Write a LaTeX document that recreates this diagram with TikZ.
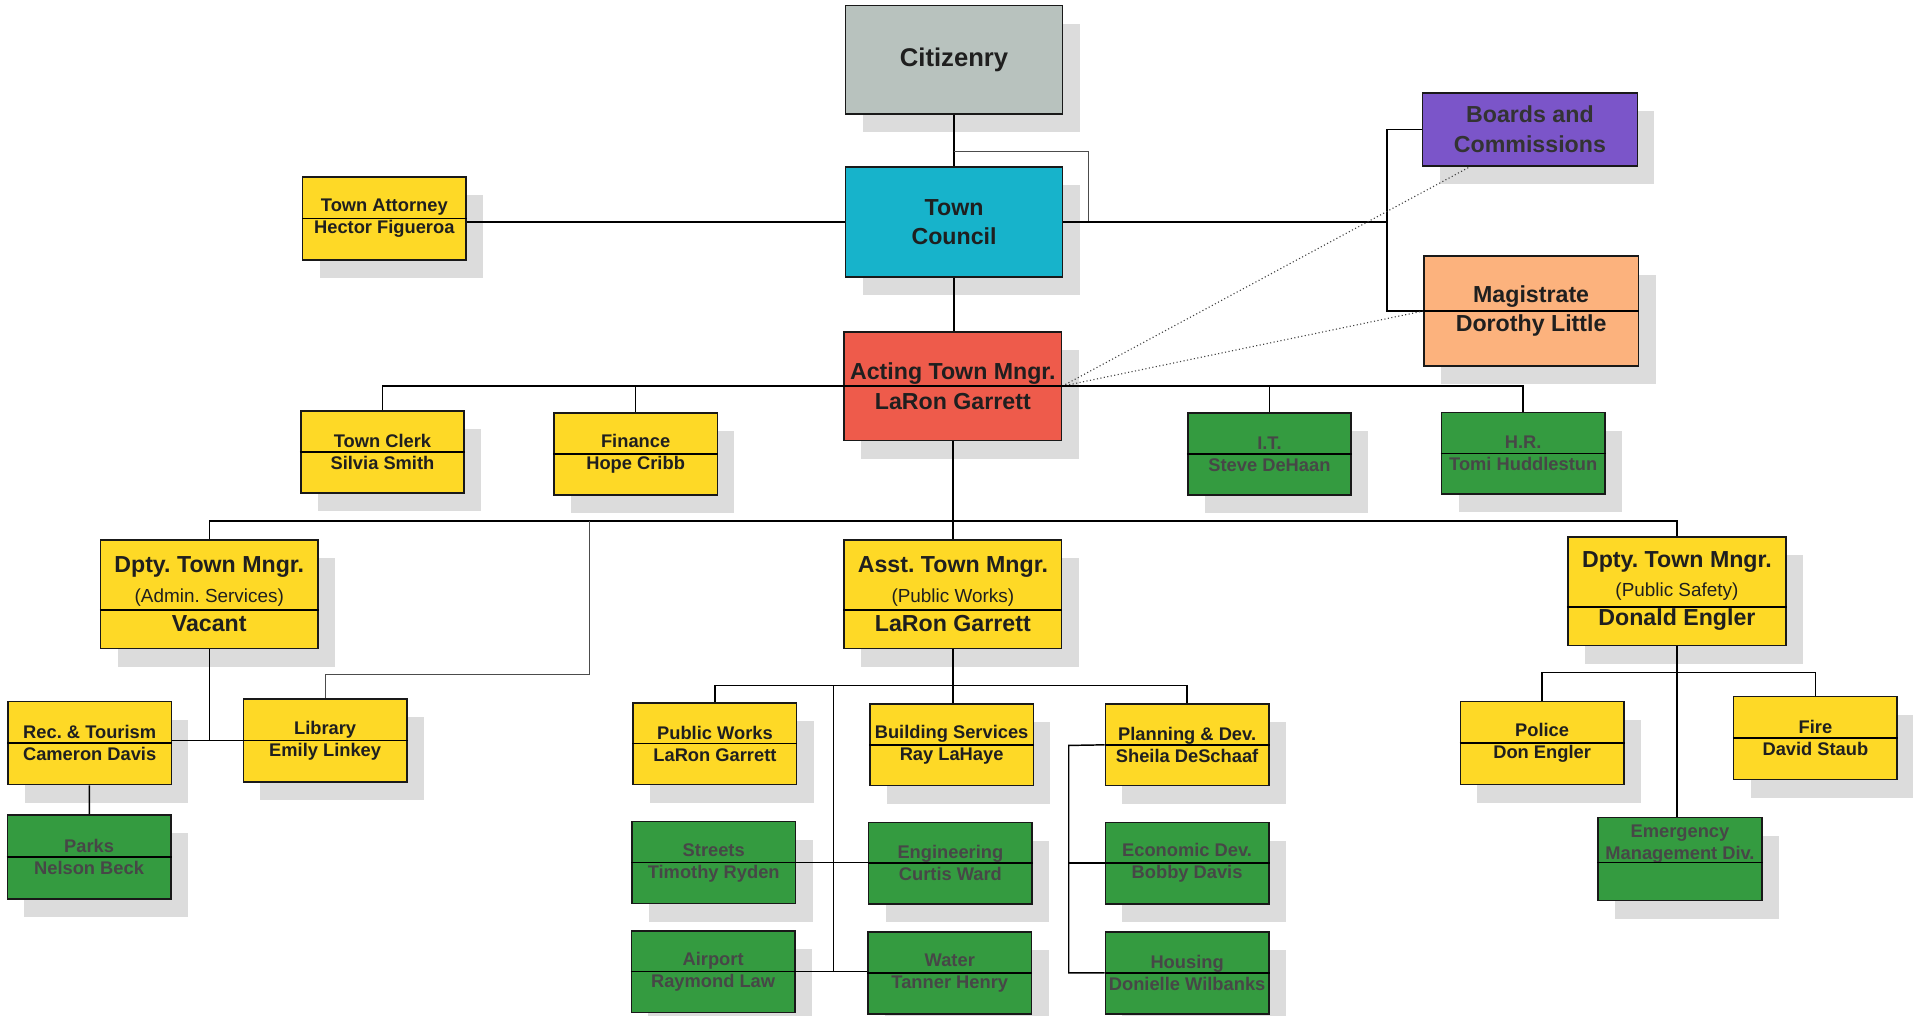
\documentclass[tikz,border=0pt]{standalone}
\usepackage{fontspec}
\setmainfont{Liberation Sans}
\usepackage{xcolor}
\usepackage{tikz}
\usetikzlibrary{shadows}
\frenchspacing

\definecolor{citgray}{HTML}{B8C2BE}
\definecolor{councilcyan}{HTML}{17B3CB}
\definecolor{boardpurple}{HTML}{7B55C9}
\definecolor{magpeach}{HTML}{FCB27D}
\definecolor{actred}{HTML}{EE5B4B}
\definecolor{deptyellow}{HTML}{FED926}
\definecolor{divgreen}{HTML}{349B40}
\definecolor{shadowgray}{HTML}{DCDCDC}

\begin{document}
\begin{tikzpicture}[x=1pt,y=-1pt,
	box/.style={draw=black!90, line width=1.3pt, inner sep=0pt, align=center,
		minimum width=134pt, minimum height=67pt, text=black!88,
		font=\fontsize{15}{18}\selectfont\bfseries,
		drop shadow={shadow xshift=14pt, shadow yshift=-15pt, fill=shadowgray, opacity=1}},
	bigbox/.style={box, minimum width=178pt, minimum height=89pt,
		font=\fontsize{19}{24}\selectfont\bfseries},
	yel/.style={box, fill=deptyellow},
	grn/.style={box, fill=divgreen, text=black!72},
	link/.style={line width=1.2pt},
	thinlink/.style={line width=0.6pt, black!70},
	dotlink/.style={line width=0.9pt, dotted, black!75},
	divline/.style={line width=1.2pt}]

\useasboundingbox (0,0) rectangle (1568,832);

\node[bigbox, fill=citgray, font=\fontsize{21}{24}\selectfont\bfseries] (citizen) at (782,49) {Citizenry};
\node[bigbox, fill=councilcyan, minimum height=90pt] (council) at (782,182) {Town\\Council};
\node[yel, minimum height=68pt] (atty) at (315,179) {Town Attorney\\Hector Figueroa};
\node[bigbox, fill=boardpurple, minimum width=176pt, minimum height=60pt, text=black!80] (boards) at (1254,106) {Boards and\\Commissions};
\node[bigbox, fill=magpeach, minimum width=176pt, minimum height=90pt] (magis) at (1255,255) {Magistrate\\Dorothy Little};
\node[bigbox, fill=actred] (acting) at (781,316.5) {Acting Town Mngr.\\LaRon Garrett};

\node[yel] (clerk) at (313.5,370.5) {Town Clerk\\Silvia Smith};
\node[yel] (finance) at (521,372) {Finance\\Hope Cribb};
\node[grn] (it) at (1040.5,372) {I.T.\\Steve DeHaan};
\node[grn] (hr) at (1248.5,371.5) {H.R.\\Tomi Huddlestun};

\node[bigbox, fill=deptyellow] (dadmin) at (171.5,487) {Dpty. Town Mngr.\\{\fontsize{15.5}{24}\selectfont\mdseries (Admin. Services)}\\Vacant};
\node[bigbox, fill=deptyellow] (asst) at (781,487) {Asst. Town Mngr.\\{\fontsize{15.5}{24}\selectfont\mdseries (Public Works)}\\LaRon Garrett};
\node[bigbox, fill=deptyellow, minimum width=179pt] (dps) at (1374.5,484.5) {Dpty. Town Mngr.\\{\fontsize{15.5}{24}\selectfont\mdseries (Public Safety)}\\Donald Engler};

\node[yel, minimum height=68pt] (rec) at (73.5,609) {Rec. \& Tourism\\Cameron Davis};
\node[yel, minimum height=68pt] (library) at (266.5,607) {Library\\Emily Linkey};
\node[grn, minimum height=69pt] (parks) at (73,702.5) {Parks\\Nelson Beck};

\node[yel] (pworks) at (586,609.5) {Public Works\\LaRon Garrett};
\node[yel] (building) at (780,610.5) {Building Services\\Ray LaHaye};
\node[yel] (planning) at (973,610.5) {Planning \& Dev.\\Sheila DeSchaaf};
\node[grn] (streets) at (585,707) {Streets\\Timothy Ryden};
\node[grn] (engineering) at (779,707.5) {Engineering\\Curtis Ward};
\node[grn] (econ) at (973,707.5) {Economic Dev.\\Bobby Davis};
\node[grn] (airport) at (584.5,796.5) {Airport\\Raymond Law};
\node[grn] (water) at (778.5,797.5) {Water\\Tanner Henry};
\node[grn] (housing) at (973,797.5) {Housing\\Donielle Wilbanks};

\node[yel, minimum height=68pt] (police) at (1264,609) {Police\\Don Engler};
\node[yel, minimum height=68pt] (fire) at (1488,605) {Fire\\David Staub};
\node[grn, minimum height=68pt] (emerg) at (1377,704) {Emergency\\Management Div.\\[9pt]\mbox{}};

\foreach \n in {atty,magis,acting,clerk,finance,it,hr,rec,library,parks,pworks,building,planning,streets,engineering,econ,airport,water,housing,police,fire}
	\draw[divline] (\n.west) -- (\n.east);
\foreach \n in {dadmin,asst,dps}
	\draw[divline] ([yshift=-13pt]\n.west) -- ([yshift=-13pt]\n.east);
\draw[divline] ([yshift=-3pt]emerg.west) -- ([yshift=-3pt]emerg.east);

\coordinate (loopA) at (782,124);
\coordinate (loopB) at (892,182);
\coordinate (bcjoin) at (1137,182);
\coordinate (bus2) at (781,427);
\coordinate (libA) at (483,427);
\coordinate (libB) at (483,553);
\coordinate (bus3) at (780,562);
\coordinate (pwA) at (683,562);
\coordinate (plA) at (876,611);
\coordinate (bus4) at (1376,551);

\draw[link] (citizen) -- (council);
\draw[thinlink] (loopA) -| (loopB);
\draw[link] (council.west) -- (council.west -| atty.east);
\draw[link] (council.east) -- (bcjoin);
\draw[link] (boards.west) -| (bcjoin) |- (magis.west);
\draw[link] (council.south) -- (council.south |- acting.north);
\draw[dotlink] (acting.east) -- (boards.212);
\draw[dotlink] (acting.east) -- (magis.west);
\draw[link] (clerk.north) |- (acting.west);
\draw[link] (finance.north) |- (acting.west);
\draw[link] (it.north) |- (acting.east);
\draw[link] (hr.north) |- (acting.east);
\draw[link] (acting) -- (asst);
\draw[link] (dadmin.north) |- (bus2) -| (dps.north);
\draw[thinlink] (libA) -- (libB) -| (library.north);
\draw[link] (library.west) -- (library.west -| rec.east);
\draw[link] (dadmin.south) -- (dadmin.south |- library.west);
\draw[link] (rec) -- (parks);
\draw[link] (asst.south) -- (asst.south |- building.north);
\draw[link] (pworks.north) |- (bus3) -| (planning.north);
\draw[link] (pwA) -- (pwA |- airport.east);
\draw[link] (streets.east) -- (streets.east -| engineering.west);
\draw[link] (airport.east) -- (airport.east -| water.west);
\draw[link] (planning.west) -- (plA) |- (housing.west);
\draw[link] (econ.west) -- (econ.west -| plA);
\draw[link] (dps.south) -- (dps.south |- emerg.north);
\draw[link] (police.north) |- (bus4) -| (fire.north);

\end{tikzpicture}
\end{document}
